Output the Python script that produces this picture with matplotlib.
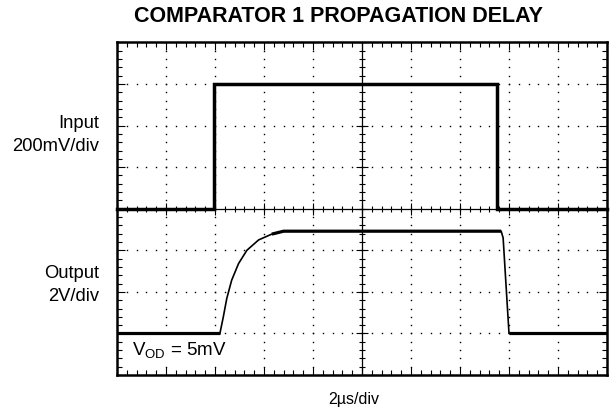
import numpy as np
import matplotlib
matplotlib.use("Agg")
import matplotlib.pyplot as plt

plt.rcParams['font.family'] = ['Liberation Sans', 'DejaVu Sans']
plt.rcParams['mathtext.fontset'] = 'custom'
plt.rcParams['mathtext.rm'] = 'Liberation Sans'
plt.rcParams['mathtext.it'] = 'Liberation Sans'

# scope traces, in divisions (10 x 8 screen)
input_x = [0, 1.98, 1.98, 7.76, 7.76, 10]
input_y = [4, 4, 7, 7, 4, 4]

output_x = [0, 2.10, 2.17, 2.24, 2.34, 2.48, 2.65, 2.89, 3.16, 3.40, 7.84, 7.88, 8.0, 10]
output_y = [1.0, 1.0, 1.40, 1.84, 2.28, 2.68, 3.0, 3.25, 3.39, 3.46, 3.46, 3.30, 1.0, 1.0]

title = "COMPARATOR 1 PROPAGATION DELAY"
x_label = "2\u00b5s/div"
input_label = "Input\n200mV/div"
output_label = "Output\n2V/div"

fig = plt.figure(figsize=(6.10, 4.11), dpi=100)
ax = fig.add_axes([117/610, 1 - 375/411, 490/610, 332.5/411])
ax.set_xlim(0, 10)
ax.set_ylim(0, 8)

# dotted graticule
minor_x = np.arange(0, 10.01, 0.2)
minor_y = np.arange(0, 8.01, 0.2)
for gx in range(1, 10):
    if gx == 5:
        continue
    ax.plot(np.full_like(minor_y, gx), minor_y, ls='', marker='s', ms=1.0, mew=0, color='black')
for gy in range(1, 8):
    if gy == 4:
        continue
    ax.plot(minor_x, np.full_like(minor_x, gy), ls='', marker='s', ms=1.0, mew=0, color='black')

# center cross with ticks
ax.axhline(4, color='black', lw=0.9)
ax.axvline(5, color='black', lw=0.9)
major_x = np.arange(0, 11, 1)
major_y = np.arange(0, 9, 1)
ax.plot(minor_x, np.full_like(minor_x, 4), ls='', marker='|', ms=4.5, mew=0.8, color='black')
ax.plot(major_x, np.full_like(major_x, 4.0), ls='', marker='|', ms=8, mew=0.8, color='black')
ax.plot(np.full_like(minor_y, 5), minor_y, ls='', marker='_', ms=4.5, mew=0.8, color='black')
ax.plot(np.full_like(major_y, 5.0), major_y, ls='', marker='_', ms=8, mew=0.8, color='black')

# border ticks
ax.set_xticks(major_x)
ax.set_yticks(major_y)
ax.set_xticks(minor_x, minor=True)
ax.set_yticks(minor_y, minor=True)
ax.tick_params(which='both', direction='in', top=True, right=True,
               labelbottom=False, labelleft=False, width=0.8, color='black')
ax.tick_params(which='major', length=5.5)
ax.tick_params(which='minor', length=3.5)
for s in ax.spines.values():
    s.set_linewidth(1.8)

# traces
ax.plot(input_x, input_y, color='black', lw=2.5, solid_joinstyle='miter', clip_on=False, zorder=5)
ax.plot(output_x, output_y, color='black', lw=1.2, zorder=5)
ax.plot(output_x[:2], output_y[:2], color='black', lw=2.3, solid_capstyle='butt', zorder=5)
ax.plot(output_x[8:11], output_y[8:11], color='black', lw=2.3, solid_capstyle='butt', zorder=5)
ax.plot(output_x[-2:], output_y[-2:], color='black', lw=2.3, solid_capstyle='butt', zorder=5)

ax.text(0.3, 0.6, r'V$_{\mathrm{OD}}$ = 5mV', fontsize=13.5, va='center', ha='left',
        bbox=dict(facecolor='white', edgecolor='none', pad=1), zorder=6)

fig.text(338.5/610, 1 - 17/411, title, fontsize=15.5, fontweight='bold', ha='center', va='center')
fig.text(354/610, 1 - 399/411, x_label, fontsize=11.5, ha='center', va='center')
fig.text(99/610, 1 - 135/411, input_label, fontsize=13.2, ha='right', va='center', linespacing=1.4)
fig.text(99/610, 1 - 285/411, output_label, fontsize=13.2, ha='right', va='center', linespacing=1.4)

fig.savefig("out.png", dpi=100)
